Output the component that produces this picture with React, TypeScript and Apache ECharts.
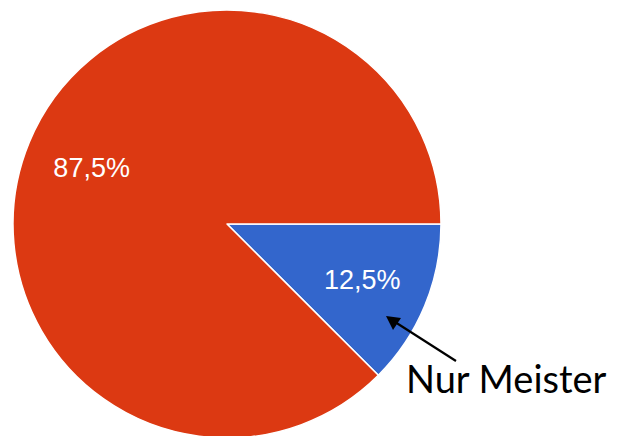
import React, { useEffect, useRef } from "react";
import * as echarts from "echarts";

const categories = ["Nur Meister", "Andere"];
const values = [12.5, 87.5];
const colors = ["#3366CC", "#DC3912"];
const annotationText = "Nur Meister";

export default function App() {
  const ref = useRef<HTMLDivElement>(null);
  useEffect(() => {
    if (!ref.current) return;
    const chart = echarts.init(ref.current, undefined, { renderer: "svg" });
    const data = categories.map((name, i) => ({
      name,
      value: values[i],
      itemStyle: { color: colors[i] },
    }));
    chart.setOption({
      animation: false,
      backgroundColor: "#ffffff",
      series: [
        {
          type: "pie",
          center: [227, 224],
          radius: [0, 214],
          startAngle: 0,
          clockwise: true,
          label: { show: false },
          labelLine: { show: false },
          itemStyle: { borderColor: "#ffffff", borderWidth: 1.5 },
          silent: true,
          data,
        },
        {
          type: "pie",
          center: [227, 224],
          radius: [0, 287],
          startAngle: 0,
          clockwise: true,
          silent: true,
          z: 5,
          itemStyle: { color: "rgba(0,0,0,0)", borderWidth: 0 },
          label: {
            show: true,
            position: "inside",
            formatter: (p: any) => p.value.toFixed(1).replace(".", ",") + "%",
            color: "#ffffff",
            fontFamily: "Liberation Sans",
            fontSize: 27,
          },
          labelLine: { show: false },
          data: categories.map((name, i) => ({ name, value: values[i] })),
        },
      ],
      graphic: [
        {
          type: "line",
          shape: { x1: 456, y1: 361, x2: 395, y2: 322 },
          style: { stroke: "#000000", lineWidth: 2.2 },
          z: 10,
        },
        {
          type: "polygon",
          shape: {
            points: [
              [386, 316],
              [401, 318],
              [393, 330],
            ],
          },
          style: { fill: "#000000" },
          z: 10,
        },
        {
          type: "text",
          left: 406,
          top: 359,
          style: {
            text: annotationText,
            fontFamily: "Lato",
            fontSize: 38,
            fill: "#000000",
          },
          z: 10,
        },
      ],
    });
    return () => chart.dispose();
  }, []);
  return (
    <div
      ref={ref}
      style={{ position: "fixed", left: 0, top: 0, width: 618, height: 436 }}
    />
  );
}
